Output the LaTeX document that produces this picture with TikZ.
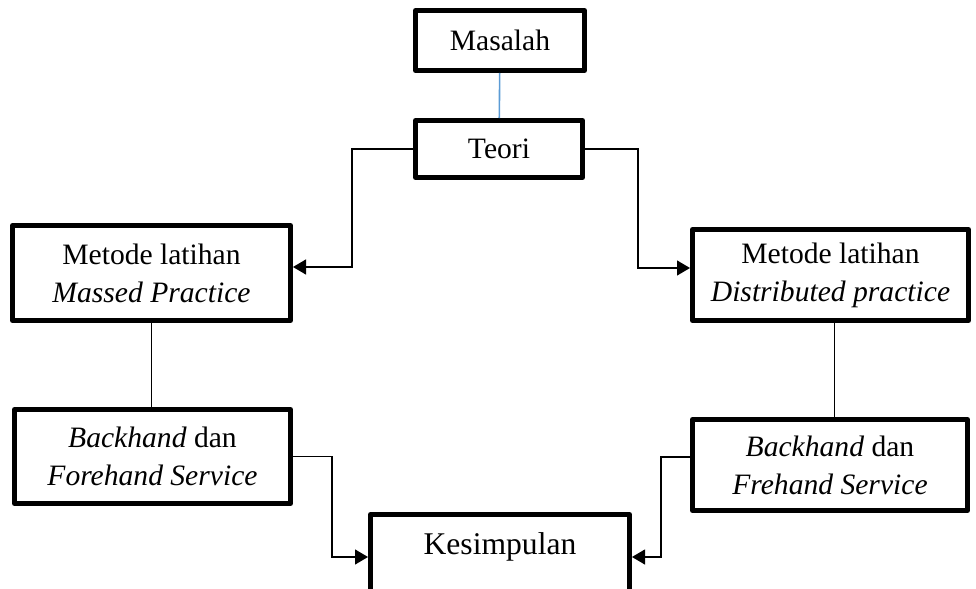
\documentclass[tikz,border=0pt]{standalone}
\usepackage{fontspec}
\setmainfont{Liberation Serif}
\usepackage{tikz}
\usetikzlibrary{arrows.meta}
\definecolor{linkblue}{RGB}{91,155,213}
\tikzset{>={Triangle[length=6.5pt, width=7.5pt]}}
\tikzset{
	box/.style={draw, line width=2.4pt, line join=round, align=center, inner sep=0pt, font=\fontsize{14.8}{19}\selectfont},
	link/.style={->, line width=0.6pt}
}

\begin{document}
\begin{tikzpicture}[x=0.5pt, y=-0.5pt]
    \useasboundingbox(0, 0) rectangle (976, 589);
    \node[box, minimum width=84.6pt, minimum height=30.1pt](masalah) at(500, 40.5){Masalah};
    \node[box, minimum width=83.6pt, minimum height=28.6pt](teori) at(499, 149){Teori};
    \node[box, minimum width=139.1pt, minimum height=47.6pt](metodeL) at(151.5, 273){Metode latihan\\\textit{Massed Practice}};
    \node[box, minimum width=138.1pt, minimum height=45.6pt](metodeR) at(830.5, 275){Metode latihan\\\textit{Distributed practice}};
    \node[box, minimum width=138.1pt, minimum height=47.1pt](backL) at(152.5, 456.5){\textit{Backhand} dan\\\textit{Forehand Service}};
    \node[box, minimum width=137.6pt, minimum height=45.6pt](backR) at(830, 465){\textit{Backhand} dan\\\textit{Frehand Service}};
    \node[box, minimum width=129.6pt, minimum height=39.6pt, text depth=10pt, font=\fontsize{15.8}{19}\selectfont](kesimpulan) at(500, 554){Kesimpulan};
    \draw[linkblue, line width=0.8pt](masalah) -- (teori);
    \draw[link](teori.west) -- ++(-61, 0) |- ([yshift=3pt]metodeL.east);
    \draw[link](teori.east) -- ++(53, 0) |- ([yshift=3.5pt]metodeR.west);
    \draw[line width=0.6pt](metodeL.south) -- (metodeL.south |- backL.north);
    \draw[line width=0.6pt]([xshift=2pt]metodeR.south) -- ([xshift=2pt]metodeR.south |- backR.north);
    \draw[link](backL.east) -- ++(39, 0) |- ([yshift=-1.5pt]kesimpulan.west);
    \draw[link]([yshift=4pt]backR.west) -- ++(-29, 0) |- ([yshift=-1.5pt]kesimpulan.east);
\end{tikzpicture}
\end{document}
